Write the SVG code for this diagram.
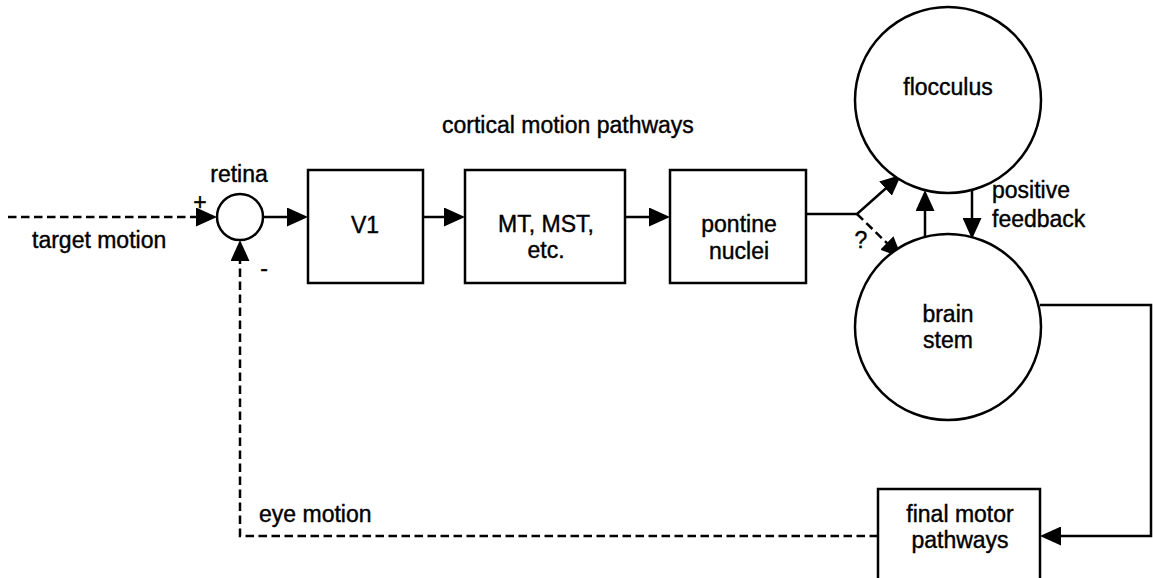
<svg xmlns="http://www.w3.org/2000/svg" width="1153" height="578" viewBox="0 0 1153 578">
  <style>
    .box { fill: #fff; stroke: #000; stroke-width: 2.5; }
    .ln { fill: none; stroke: #000; stroke-width: 2.5; }
    .dash { stroke-dasharray: 8.5 4.5; }
    text { font-family: "Liberation Sans", Arial, sans-serif; font-size: 23px; fill: #000; stroke: #000; stroke-width: 0.4; }
    .c { text-anchor: middle; }
  </style>
  <defs>
    <marker id="arr" markerUnits="userSpaceOnUse" markerWidth="21" markerHeight="19" refX="10" refY="9.5" orient="auto" viewBox="0 0 21 19">
      <path d="M0,0 L21,9.5 L0,19 z" fill="#000"/>
    </marker>
  </defs>

  <rect width="1153" height="578" fill="#fff"/>

  <g id="connectors">
    <line class="ln dash" x1="8" y1="217" x2="206" y2="217" marker-end="url(#arr)"/>
    <line class="ln" x1="263" y1="217" x2="297" y2="217" marker-end="url(#arr)"/>
    <line class="ln" x1="423" y1="217" x2="454" y2="217" marker-end="url(#arr)"/>
    <line class="ln" x1="625" y1="217" x2="659" y2="217" marker-end="url(#arr)"/>
    <polyline class="ln" points="806,214 857,214 893,182" marker-end="url(#arr)"/>
    <line class="ln dash" x1="857" y1="214" x2="894" y2="250" marker-end="url(#arr)"/>
    <line class="ln" x1="925" y1="238" x2="925" y2="201" marker-end="url(#arr)"/>
    <line class="ln" x1="972" y1="190" x2="972" y2="228" marker-end="url(#arr)"/>
    <polyline class="ln" points="1040,305 1151,305 1151,536 1051,536" marker-end="url(#arr)"/>
    <polyline class="ln dash" points="878,536 240,536 240,251" marker-end="url(#arr)"/>
  </g>

  <g id="retina">
    <circle class="box" cx="240" cy="217" r="23"/>
    <text class="c" x="239" y="182">retina</text>
    <text class="c" x="200" y="210">+</text>
    <text class="c" x="264" y="276">-</text>
  </g>

  <g id="v1">
    <rect class="box" x="308" y="170" width="115" height="113"/>
    <text class="c" x="365" y="233">V1</text>
  </g>

  <g id="mt">
    <rect class="box" x="465" y="170" width="160" height="113"/>
    <text class="c" x="546" y="232">MT, MST,</text>
    <text class="c" x="546" y="258">etc.</text>
  </g>

  <g id="pontine">
    <rect class="box" x="670" y="170" width="136" height="113"/>
    <text class="c" x="739" y="232">pontine</text>
    <text class="c" x="739" y="259">nuclei</text>
  </g>

  <g id="flocculus">
    <circle class="box" cx="948" cy="100" r="93"/>
    <text class="c" x="948" y="95">flocculus</text>
  </g>

  <g id="brainstem">
    <circle class="box" cx="948" cy="327" r="93"/>
    <text class="c" x="948" y="322">brain</text>
    <text class="c" x="948" y="348">stem</text>
  </g>

  <g id="finalmotor">
    <rect class="box" x="878" y="489" width="162" height="120"/>
    <text class="c" x="960" y="522">final motor</text>
    <text class="c" x="960" y="548">pathways</text>
  </g>

  <g id="labels">
    <text x="442" y="133">cortical motion pathways</text>
    <text x="32" y="248">target motion</text>
    <text class="c" x="861" y="248">?</text>
    <text x="992" y="198">positive</text>
    <text x="992" y="227">feedback</text>
    <text x="259" y="522">eye motion</text>
  </g>
</svg>
